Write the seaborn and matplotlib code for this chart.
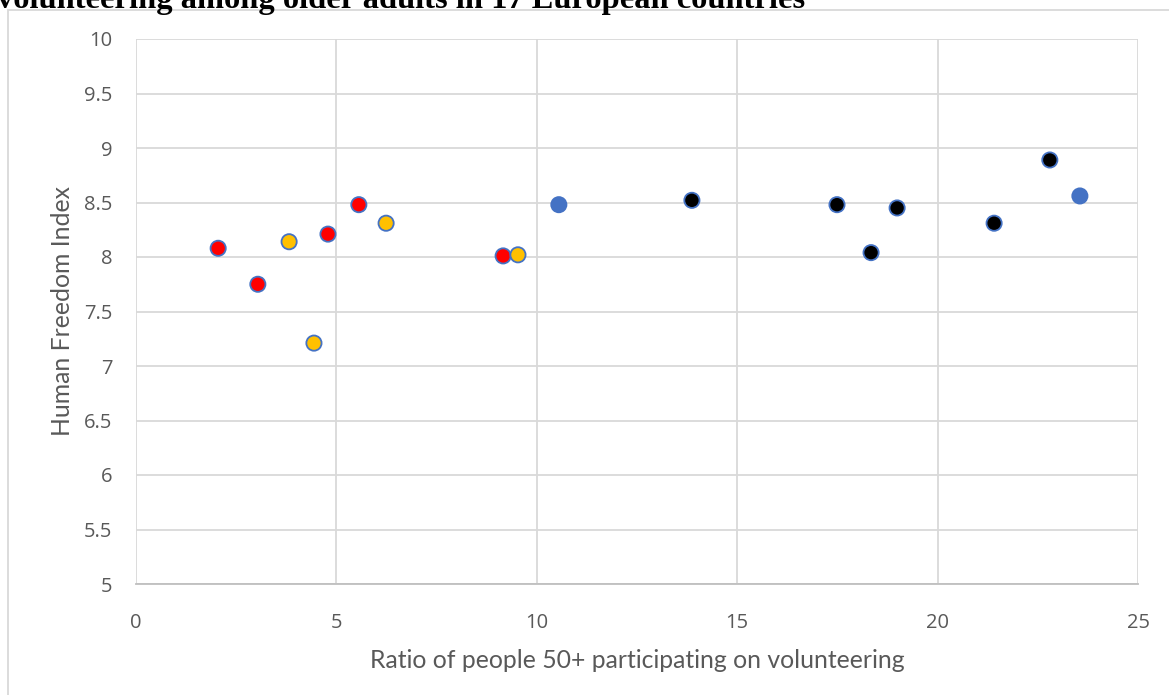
import matplotlib
matplotlib.use("Agg")
import matplotlib.pyplot as plt
from matplotlib.patches import Rectangle
import seaborn as sns
import pandas as pd

# Share of people aged 50+ who volunteer vs. Human Freedom Index, by country cluster
red_x = [2.05, 3.04, 4.79, 5.56, 9.16]
red_y = [8.08, 7.75, 8.21, 8.48, 8.01]
yellow_x = [3.82, 4.44, 6.24, 9.53]
yellow_y = [8.14, 7.21, 8.31, 8.02]
blue_x = [10.55, 23.55]
blue_y = [8.48, 8.56]
black_x = [13.87, 17.49, 18.34, 18.99, 21.41, 22.80]
black_y = [8.52, 8.48, 8.04, 8.45, 8.31, 8.89]

x_ticks = [0, 5, 10, 15, 20, 25]
y_ticks = [5, 5.5, 6, 6.5, 7, 7.5, 8, 8.5, 9, 9.5, 10]

title = "volunteering among older adults in 17 European countries"
x_label = "Ratio of people 50+ participating on volunteering"
y_label = "Human Freedom Index"

frames = []
for name, xs, ys in [("cluster 1", red_x, red_y), ("cluster 2", yellow_x, yellow_y),
                     ("cluster 3", blue_x, blue_y), ("cluster 4", black_x, black_y)]:
    frames.append(pd.DataFrame({"ratio": xs, "hfi": ys, "cluster": name}))
df = pd.concat(frames, ignore_index=True)

palette = {"cluster 1": "#FF0000", "cluster 2": "#FFC000",
           "cluster 3": "#4472C4", "cluster 4": "#000000"}

sns.set_style("white")
plt.rcParams["font.family"] = ["Open Sans", "DejaVu Sans"]

W, H = 1169, 695
AX_L, AX_R, AX_T, AX_B = 136, 1138, 39, 584
fig = plt.figure(figsize=(W / 100, H / 100), dpi=100)
ax = fig.add_axes([AX_L / W, (H - AX_B) / H, (AX_R - AX_L) / W, (AX_B - AX_T) / H])

# outer chart frame
fig.patches.append(Rectangle((8 / W, -0.05), 1.2, (H - 10) / H + 0.05,
                             transform=fig.transFigure, fill=False,
                             edgecolor="#D9D9D9", linewidth=1.3, zorder=0))

sns.scatterplot(data=df, x="ratio", y="hfi", hue="cluster", palette=palette,
                s=120, edgecolor="#4472C4", linewidth=1.3, legend=False,
                ax=ax, zorder=3)

ax.set_xlim(0, 25)
ax.set_ylim(5, 10)
ax.set_xticks(x_ticks)
ax.set_yticks(y_ticks)
ax.set_xticklabels([f"{t:g}" for t in x_ticks])
ax.set_yticklabels([f"{t:g}" for t in y_ticks])
ax.grid(True, color="#D9D9D9", linewidth=1.3)
ax.set_axisbelow(True)
for side in ["top", "right", "left"]:
    ax.spines[side].set_visible(False)
ax.spines["bottom"].set_color("#BFBFBF")
ax.spines["bottom"].set_linewidth(1.3)
ax.tick_params(axis="both", length=0, labelsize=14.5, labelcolor="#595959")
ax.tick_params(axis="y", pad=17)
ax.tick_params(axis="x", pad=21)

label_font = dict(fontsize=17.8, color="#595959", family=["Lato", "DejaVu Sans"])
ax.set_xlabel(x_label, va="baseline", **label_font)
ax.xaxis.set_label_coords(0.5, -(668 - AX_B) / (AX_B - AX_T))
ax.set_ylabel(y_label, va="baseline", **label_font)
ax.yaxis.set_label_coords(-(AX_L - 70) / (AX_R - AX_L), 0.5)

fig.text(-3 / W, 1 - 8 / H, title, ha="left", va="baseline",
         fontsize=23.4, fontweight="bold", family=["Liberation Serif"], color="#000000")

fig.savefig("out.png", dpi=100)
